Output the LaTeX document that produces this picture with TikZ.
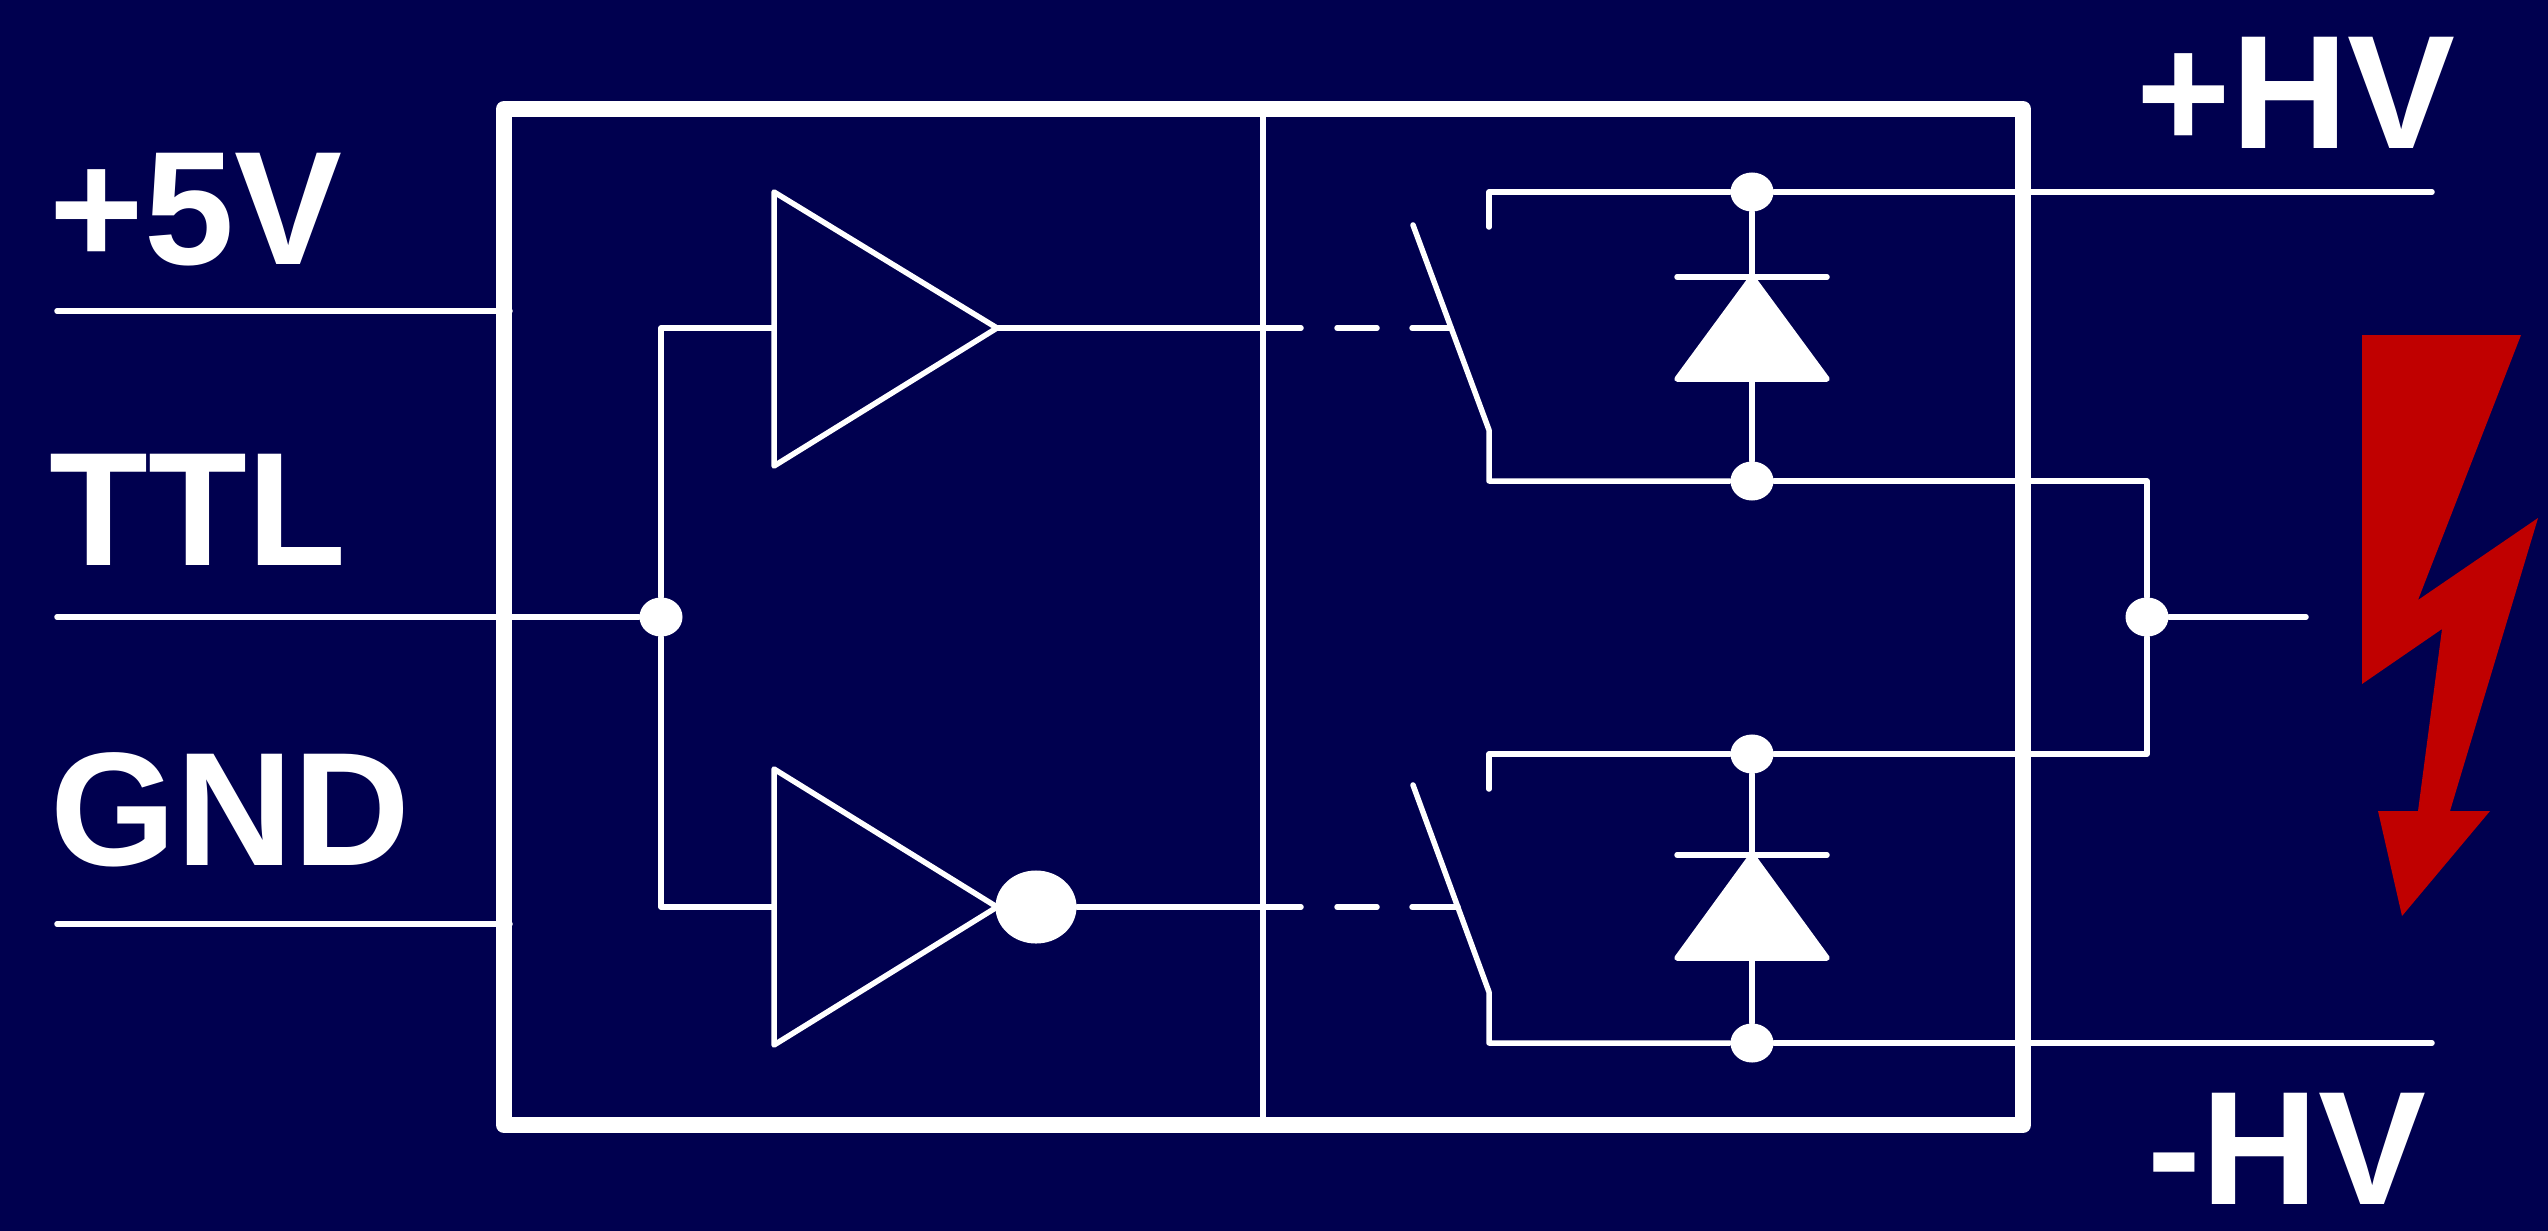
\documentclass[tikz,border=0pt]{standalone}
\usepackage{fontspec}
\setmainfont{Liberation Sans}
\usetikzlibrary{shapes.geometric}
\definecolor{bgblue}{HTML}{00004F}
\definecolor{boltred}{HTML}{C00000}
\tikzset{
	wire/.style={white,line width=0.55mm,line cap=round,line join=round},
	frameline/.style={white,line width=1.6mm,line join=round},
	junction/.style={ellipse,fill=white,inner sep=0pt,minimum width=0.43cm,minimum height=0.39cm},
	bubble/.style={ellipse,fill=white,inner sep=0pt,minimum width=0.81cm,minimum height=0.73cm},
	label/.style={white,anchor=base west,inner sep=0pt,text depth=0pt,font=\fontsize{46}{50}\selectfont\bfseries},
}
\begin{document}
\begin{tikzpicture}[x=0.01cm,y=-0.01cm]
	\useasboundingbox (0,0) rectangle (2548,1230);
	\fill[bgblue] (-10,-10) rectangle (2558,1240);
\node[label] (P) at (49,264) {+5V};
\node[label] (T) at (49,565) {TTL};
\node[label] (G) at (50,865) {GND};
\node[label] (HP) at (2136,148) {+HV};
\node[label] (HN) at (2147,1204) {-HV};
\coordinate (Pa) at (57,311);
\coordinate (Pb) at (510,311);
\coordinate (Ta) at (57,617);
\coordinate (Ga) at (57,924);
\coordinate (Gb) at (510,924);
\node[junction] (J) at (661,617) {};
\node[junction] (Out) at (2147,617) {};
\node[junction] (D1a) at (1752,192) {};
\node[junction] (D1b) at (1752,481) {};
\node[junction] (D2a) at (1752,754) {};
\node[junction] (D2b) at (1752,1043) {};
\node[bubble] (Inv) at (1036,907) {};
\coordinate (A1t) at (774,192);
\coordinate (A1m) at (774,328);
\coordinate (A1b) at (774,466);
\coordinate (A1o) at (997,328);
\coordinate (A2t) at (774,769);
\coordinate (A2m) at (774,907);
\coordinate (A2b) at (774,1045);
\coordinate (A2o) at (997,907);
\coordinate (Fa) at (1263,109);
\coordinate (Fb) at (1263,1125);
\coordinate (E1) at (1301,328);
\coordinate (E2) at (1337,328);
\coordinate (E3) at (1377,328);
\coordinate (E4) at (1412,328);
\coordinate (E5) at (1451,328);
\coordinate (L1) at (1301,907);
\coordinate (L2) at (1337,907);
\coordinate (L3) at (1377,907);
\coordinate (L4) at (1412,907);
\coordinate (L5) at (1458,907);
\coordinate (S1a) at (1489,227);
\coordinate (S1b) at (1413,225);
\coordinate (S1c) at (1489,430);
\coordinate (S2a) at (1489,789);
\coordinate (S2b) at (1413,785);
\coordinate (S2c) at (1489,992);
\coordinate (R1) at (2432,192);
\coordinate (R2) at (2432,1043);
\coordinate (Ob) at (2306,617);
\coordinate (B1l) at (1677,277);
\coordinate (B1r) at (1827,277);
\coordinate (B1t) at (1752,277);
\coordinate (B1c) at (1827,379);
\coordinate (B1d) at (1677,379);
\coordinate (B2l) at (1677,855);
\coordinate (B2r) at (1827,855);
\coordinate (B2t) at (1752,855);
\coordinate (B2c) at (1827,958);
\coordinate (B2d) at (1677,958);
\draw[frameline] (504,109) rectangle (2023,1125);
\draw[wire] (Fa) -- (Fb);
\draw[wire] (Pa) -- (Pb);
\draw[wire] (Ga) -- (Gb);
\draw[wire] (Ta) -- (J);
\draw[wire] (J) |- (A1m);
\draw[wire] (J) |- (A2m);
\draw[wire] (A1t) -- (A1o) -- (A1b) -- cycle;
\draw[wire] (A2t) -- (A2o) -- (A2b) -- cycle;
\draw[wire] (A1o) -- (E1);
\draw[wire] (E2) -- (E3);
\draw[wire] (E4) -- (E5);
\draw[wire] (A2o) -- (Inv);
\draw[wire] (Inv) -- (L1);
\draw[wire] (L2) -- (L3);
\draw[wire] (L4) -- (L5);
\draw[wire] (S1a) |- (D1a);
\draw[wire] (D1a) -- (R1);
\draw[wire] (S1b) -- (S1c) |- (D1b);
\draw[wire] (D1b) -| (Out);
\draw[wire] (S2a) |- (D2a);
\draw[wire] (D2a) -| (Out);
\draw[wire] (S2b) -- (S2c) |- (D2b);
\draw[wire] (D2b) -- (R2);
\draw[wire] (Out) -- (Ob);
\draw[wire] (D1a) -- (D1b);
\draw[wire] (D2a) -- (D2b);
\draw[wire] (B1l) -- (B1r);
\draw[wire] (B2l) -- (B2r);
\filldraw[wire,fill=white] (B1t) -- (B1c) -- (B1d) -- cycle;
\filldraw[wire,fill=white] (B2t) -- (B2c) -- (B2d) -- cycle;
\fill[boltred] (2362,335) -- (2521,335) -- (2418,600) -- (2538,518) -- (2450,811) -- (2490,811) -- (2402,916) -- (2378,811) -- (2418,811) -- (2442,629) -- (2362,684) -- cycle;

\end{tikzpicture}
\end{document}
